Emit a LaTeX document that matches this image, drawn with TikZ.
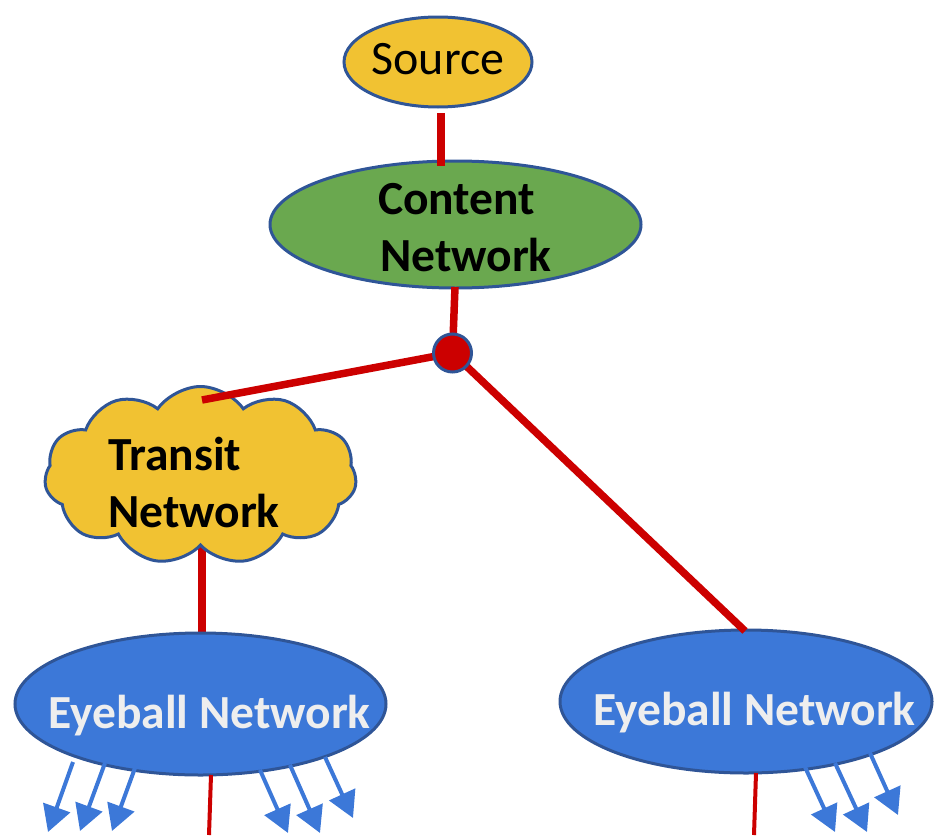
\documentclass[tikz,border=0pt]{standalone}
\usepackage{fontspec}
\setmainfont{Carlito}
\usetikzlibrary{shapes.geometric,shapes.symbols,arrows.meta}
\definecolor{yel}{HTML}{F1C232}
\definecolor{grn}{HTML}{6AA84F}
\definecolor{blu}{HTML}{3C78D8}
\definecolor{edgeb}{HTML}{2F5597}
\definecolor{redl}{HTML}{CC0000}
\definecolor{txtw}{HTML}{EEEEEE}
\begin{document}
\begin{tikzpicture}[x=1pt,y=-1pt,
  shapebox/.style={ellipse,draw=edgeb,line width=3pt,inner sep=0pt},
  link/.style={draw=redl,line width=7.5pt},
  thinlink/.style={draw=redl,line width=4pt},
  flowarrow/.style={draw=blu,line width=4pt,-{Triangle[width=28pt,length=26pt]}},
  boldtxt/.style={font=\fontsize{47.5}{57}\selectfont\bfseries,inner sep=0pt,anchor=base west},
]
\useasboundingbox (0,0) rectangle (936,835);

\coordinate (j) at (452.5,353);
\coordinate (tntop) at (202,400);
\coordinate (tnbot) at (202,545);
\coordinate (cntop) at (441,166);
\coordinate (srcbot) at (441,113);
\coordinate (cnbot) at (455,287);
\coordinate (eltop) at (202,634);
\coordinate (ertop) at (745,631);
\coordinate (elb) at (211,775);
\coordinate (elbe) at (209,835);
\coordinate (erb) at (756,773);
\coordinate (erbe) at (754,835);

% link hidden behind the cloud at its upper end
\draw[link] (tnbot) -- (eltop);

% shapes
\node[shapebox,fill=yel,minimum width=188pt,minimum height=90pt] (src) at (438,62) {};
\node[font=\fontsize{48}{57}\selectfont,inner sep=0pt,anchor=base] (srct) at (438,74) {Source};

\node[shapebox,fill=grn,minimum width=371pt,minimum height=127pt] (cn) at (455.5,224.5) {};
\node[boldtxt] (cn1) at (378,214) {Content};
\node[boldtxt] (cn2) at (380,271) {Network};

\node[cloud,cloud puffs=11,cloud puff arc=110,aspect=1.8,draw=edgeb,line width=3pt,fill=yel,
      minimum width=312pt,minimum height=178pt,inner sep=0pt] (tn) at (200.5,475.5) {};
\node[boldtxt] (tn1) at (108,470) {Transit};
\node[boldtxt] (tn2) at (108,527) {Network};

\node[shapebox,fill=blu,minimum width=371pt,minimum height=142pt] (el) at (200.5,704) {};
\node[boldtxt,text=txtw] (elt) at (48,728) {Eyeball Network};

\node[shapebox,fill=blu,minimum width=372pt,minimum height=143pt] (er) at (746,701.5) {};
\node[boldtxt,text=txtw] (ert) at (593,725) {Eyeball Network};

% red links
\draw[link] (srcbot) -- (cntop);
\draw[link] (cnbot) -- (j);
\draw[link] (j) -- (tntop);
\draw[link] (j) -- (ertop);
\draw[thinlink] (elb) -- (elbe);
\draw[thinlink] (erb) -- (erbe);

\node[circle,draw=edgeb,line width=3pt,fill=redl,minimum size=38pt,inner sep=0pt] (jn) at (j) {};

% blue arrows
\draw[flowarrow] (73,762) -- (48,832);
\draw[flowarrow] (105,763) -- (80,831);
\draw[flowarrow] (135,768) -- (112,831);
\draw[flowarrow] (260,770) -- (288,833);
\draw[flowarrow] (290,765) -- (320,833);
\draw[flowarrow] (325,757) -- (353,818);
\draw[flowarrow] (805,767) -- (835,832);
\draw[flowarrow] (835,763) -- (867,832);
\draw[flowarrow] (870,753) -- (898,815);
\end{tikzpicture}
\end{document}
